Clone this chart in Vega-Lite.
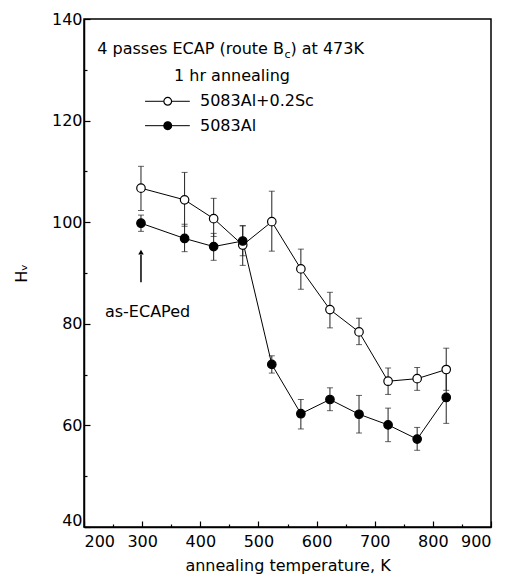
{
  "$schema": "https://vega.github.io/schema/vega-lite/v6.json",
  "autosize": "none",
  "width": 407,
  "height": 508,
  "padding": {"left": 84, "top": 19, "right": 25, "bottom": 61},
  "background": "white",
  "config": {
    "view": {"stroke": "black", "strokeWidth": 1.5},
    "axis": {
      "grid": false,
      "domainColor": "black",
      "domainWidth": 1.5,
      "tickColor": "black",
      "tickWidth": 1.2,
      "labelColor": "black",
      "labelFont": "DejaVu Sans",
      "labelFontSize": 16,
      "titleFont": "DejaVu Sans",
      "titleFontSize": 16,
      "titleFontWeight": "normal",
      "titleColor": "black"
    },
    "text": {"font": "DejaVu Sans", "fontSize": 16, "color": "black"}
  },
  "resolve": {"axis": {"x": "independent", "y": "independent"}},
  "datasets": {
    "hv": [
      {"series": "5083Al+0.2Sc", "T": 298, "H": 106.7, "lo": 102.3, "hi": 111.0},
      {"series": "5083Al+0.2Sc", "T": 373, "H": 104.4, "lo": 99.2, "hi": 109.8},
      {"series": "5083Al+0.2Sc", "T": 423, "H": 100.7, "lo": 97.2, "hi": 104.7},
      {"series": "5083Al+0.2Sc", "T": 473, "H": 95.5, "lo": 91.5, "hi": 99.3},
      {"series": "5083Al+0.2Sc", "T": 523, "H": 100.1, "lo": 94.3, "hi": 106.1},
      {"series": "5083Al+0.2Sc", "T": 573, "H": 90.8, "lo": 86.8, "hi": 94.7},
      {"series": "5083Al+0.2Sc", "T": 623, "H": 82.8, "lo": 79.2, "hi": 86.2},
      {"series": "5083Al+0.2Sc", "T": 673, "H": 78.4, "lo": 75.9, "hi": 81.1},
      {"series": "5083Al+0.2Sc", "T": 723, "H": 68.7, "lo": 66.1, "hi": 71.3},
      {"series": "5083Al+0.2Sc", "T": 773, "H": 69.2, "lo": 66.9, "hi": 71.4},
      {"series": "5083Al+0.2Sc", "T": 823, "H": 71.0, "lo": 66.9, "hi": 75.2},
      {"series": "5083Al", "T": 298, "H": 99.8, "lo": 98.2, "hi": 101.4},
      {"series": "5083Al", "T": 373, "H": 96.8, "lo": 94.2, "hi": 99.6},
      {"series": "5083Al", "T": 423, "H": 95.2, "lo": 92.5, "hi": 97.8},
      {"series": "5083Al", "T": 473, "H": 96.3, "lo": 93.4, "hi": 99.3},
      {"series": "5083Al", "T": 523, "H": 72.0, "lo": 70.3, "hi": 73.7},
      {"series": "5083Al", "T": 573, "H": 62.3, "lo": 59.3, "hi": 65.1},
      {"series": "5083Al", "T": 623, "H": 65.1, "lo": 62.9, "hi": 67.4},
      {"series": "5083Al", "T": 673, "H": 62.2, "lo": 58.5, "hi": 65.9},
      {"series": "5083Al", "T": 723, "H": 60.1, "lo": 56.8, "hi": 63.4},
      {"series": "5083Al", "T": 773, "H": 57.3, "lo": 55.1, "hi": 59.6},
      {"series": "5083Al", "T": 823, "H": 65.5, "lo": 60.4, "hi": 70.6}
    ],
    "legend": [
      {"series": "5083Al+0.2Sc", "x1": 305, "x2": 382, "xc": 344, "y": 123.8, "xt": 399.5, "label": "5083Al+0.2Sc"},
      {"series": "5083Al", "x1": 305, "x2": 382, "xc": 344, "y": 119.0, "xt": 399.5, "label": "5083Al"}
    ],
    "title1": [{"x": 544, "y": 134.1, "text": "4 passes ECAP (route B"}],
    "titlesub": [{"x": 544.8, "y": 132.9, "text": "c"}],
    "title2": [{"x": 555, "y": 134.1, "text": ") at 473K"}],
    "title3": [{"x": 454.6, "y": 128.8, "text": "1 hr annealing"}],
    "ecaped": [{"x": 236, "y": 82.3, "text": "as-ECAPed"}],
    "arrow": [{"x": 298, "y1": 88.2, "y2": 93.6, "ytip": 94.1}]
  },
  "layer": [
    {
      "data": {"name": "hv"},
      "mark": {"type": "errorbar", "ticks": {"size": 6, "color": "#222"}, "rule": {"color": "#222", "strokeWidth": 1}},
      "encoding": {
        "x": {"field": "T", "type": "quantitative", "scale": {"domain": [200, 900], "nice": false},
          "axis": {"title": "annealing temperature, K", "values": [200,300,400,500,600,700,800,900],
            "tickSize": -6, "labelPadding": 12, "titlePadding": 8}},
        "y": {"field": "lo", "type": "quantitative", "scale": {"domain": [40, 140], "nice": false},
          "axis": {"title": "Hᵥ", "values": [40,60,80,100,120,140],
            "tickSize": -6, "labelPadding": 8, "titlePadding": 22,
            "labelOffset": {"condition": {"test": "datum.value === 40", "value": -7}, "value": 0}}},
        "y2": {"field": "hi"}
      }
    },
    {
      "data": {"name": "hv"},
      "mark": {"type": "line", "color": "black", "strokeWidth": 1},
      "encoding": {
        "x": {"field": "T", "type": "quantitative",
          "axis": {"orient": "bottom", "title": null, "values": [250,350,450,550,650,750,850], "labels": false, "domain": false, "tickSize": -3}},
        "y": {"field": "H", "type": "quantitative",
          "axis": {"orient": "left", "title": null, "values": [50,70,90,110,130], "labels": false, "domain": false, "tickSize": -3}},
        "detail": {"field": "series"}
      }
    },
    {
      "data": {"name": "hv"},
      "mark": {"type": "point", "shape": "circle", "size": 72, "stroke": "black", "strokeWidth": 1.2, "opacity": 1},
      "encoding": {
        "x": {"field": "T", "type": "quantitative", "axis": null},
        "y": {"field": "H", "type": "quantitative", "axis": null},
        "fill": {"field": "series", "type": "nominal", "scale": {"domain": ["5083Al+0.2Sc", "5083Al"], "range": ["white", "black"]}, "legend": null}
      }
    },
    {
      "data": {"name": "legend"},
      "mark": {"type": "rule", "color": "black", "strokeWidth": 1},
      "encoding": {
        "x": {"field": "x1", "type": "quantitative", "axis": null},
        "x2": {"field": "x2"},
        "y": {"field": "y", "type": "quantitative", "axis": null}
      }
    },
    {
      "data": {"name": "legend"},
      "mark": {"type": "point", "shape": "circle", "size": 60, "stroke": "black", "strokeWidth": 1.2, "opacity": 1},
      "encoding": {
        "x": {"field": "xc", "type": "quantitative", "axis": null},
        "y": {"field": "y", "type": "quantitative", "axis": null},
        "fill": {"field": "series", "type": "nominal", "scale": {"domain": ["5083Al+0.2Sc", "5083Al"], "range": ["white", "black"]}, "legend": null}
      }
    },
    {
      "data": {"name": "legend"},
      "mark": {"type": "text", "align": "left", "baseline": "middle", "fontSize": 16},
      "encoding": {
        "x": {"field": "xt", "type": "quantitative", "axis": null},
        "y": {"field": "y", "type": "quantitative", "axis": null},
        "text": {"field": "label"}
      }
    },
    {
      "data": {"name": "title1"},
      "mark": {"type": "text", "align": "right", "baseline": "middle", "fontSize": 16},
      "encoding": {
        "x": {"field": "x", "type": "quantitative", "axis": null},
        "y": {"field": "y", "type": "quantitative", "axis": null},
        "text": {"field": "text"}
      }
    },
    {
      "data": {"name": "titlesub"},
      "mark": {"type": "text", "align": "left", "baseline": "middle", "fontSize": 11},
      "encoding": {
        "x": {"field": "x", "type": "quantitative", "axis": null},
        "y": {"field": "y", "type": "quantitative", "axis": null},
        "text": {"field": "text"}
      }
    },
    {
      "data": {"name": "title2"},
      "mark": {"type": "text", "align": "left", "baseline": "middle", "fontSize": 16},
      "encoding": {
        "x": {"field": "x", "type": "quantitative", "axis": null},
        "y": {"field": "y", "type": "quantitative", "axis": null},
        "text": {"field": "text"}
      }
    },
    {
      "data": {"name": "title3"},
      "mark": {"type": "text", "align": "center", "baseline": "middle", "fontSize": 16},
      "encoding": {
        "x": {"field": "x", "type": "quantitative", "axis": null},
        "y": {"field": "y", "type": "quantitative", "axis": null},
        "text": {"field": "text"}
      }
    },
    {
      "data": {"name": "ecaped"},
      "mark": {"type": "text", "align": "left", "baseline": "middle", "fontSize": 16},
      "encoding": {
        "x": {"field": "x", "type": "quantitative", "axis": null},
        "y": {"field": "y", "type": "quantitative", "axis": null},
        "text": {"field": "text"}
      }
    },
    {
      "data": {"name": "arrow"},
      "mark": {"type": "rule", "color": "black", "strokeWidth": 1.5},
      "encoding": {
        "x": {"field": "x", "type": "quantitative", "axis": null},
        "y": {"field": "y1", "type": "quantitative", "axis": null},
        "y2": {"field": "y2"}
      }
    },
    {
      "data": {"name": "arrow"},
      "mark": {"type": "point", "shape": "triangle-up", "size": 30, "filled": true, "color": "black", "opacity": 1},
      "encoding": {
        "x": {"field": "x", "type": "quantitative", "axis": null},
        "y": {"field": "ytip", "type": "quantitative", "axis": null}
      }
    }
  ]
}
